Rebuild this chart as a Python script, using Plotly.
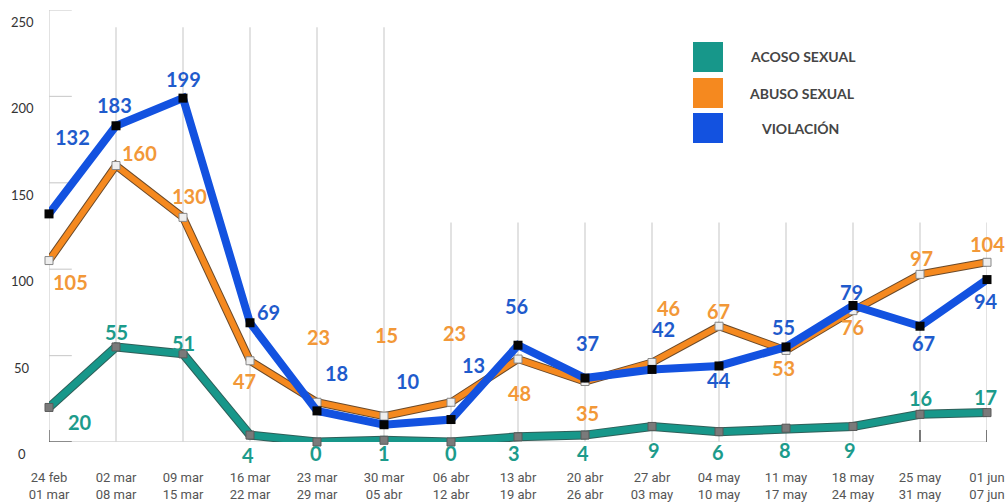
import plotly.graph_objects as go

weeks = ["24 feb<br>01 mar", "02 mar<br>08 mar", "09 mar<br>15 mar", "16 mar<br>22 mar",
         "23 mar<br>29 mar", "30 mar<br>05 abr", "06 abr<br>12 abr", "13 abr<br>19 abr",
         "20 abr<br>26 abr", "27 abr<br>03 may", "04 may<br>10 may", "11 may<br>17 may",
         "18 may<br>24 may", "25 may<br>31 may", "01 jun<br>07 jun"]
acoso = [20, 55, 51, 4, 0, 1, 0, 3, 4, 9, 6, 8, 9, 16, 17]
abuso = [105, 160, 130, 47, 23, 15, 23, 48, 35, 46, 67, 53, 76, 97, 104]
violacion = [132, 183, 199, 69, 18, 10, 13, 56, 37, 42, 44, 55, 79, 67, 94]
y_ticks = [0, 50, 100, 150, 200, 250]
legend_names = ["ACOSO SEXUAL", "ABUSO SEXUAL", "VIOLACIÓN"]

TEAL, ORANGE, BLUE = "#17978a", "#f5891f", "#1352e0"
TEAL_T, ORANGE_T, BLUE_T = "#1c9b8b", "#f29838", "#1f5bcc"

# label offsets (dx px, dy px upward)
off_v = [(23, 77), (-2, 21), (0, 19), (18, 11), (19, 38), (24, 44), (22, 55), (-2, 39),
         (2, 35), (11, 40), (0, -14), (-3, 20), (-2, 13), (3, -17), (-1, -21)]
off_a = [(21, -21), (23, 13), (6, 21), (-6, -20), (1, 65), (2, 81), (3, 69), (1, -34),
         (2, -31), (16, 55), (-1, 15), (-3, -18), (-1, -16), (1, 16), (0, 18)]
off_t = [(31, -15), (0, 15), (0, 11), (-2, -20), (-1, -11), (0, -13), (0, -11), (-4, -16),
         (-2, -18), (2, -24), (-1, -20), (-1, -22), (-3, -24), (0, 16), (-2, 16)]

W, H = 1005, 502
L, R, T, B = 49, 18, 10, 60
PW, PH = W - L - R, H - T - B


def px(x):
    return (x - L) / PW


def py(y):
    return (H - B - y) / PH


xs = list(range(len(weeks)))
fig = go.Figure()

# teal with dark outline
fig.add_trace(go.Scatter(x=xs, y=acoso, mode="lines", line=dict(color="#2f5f59", width=9),
                         hoverinfo="skip", showlegend=False, cliponaxis=False))
fig.add_trace(go.Scatter(x=xs, y=acoso, mode="lines+markers", name=legend_names[0],
                         line=dict(color=TEAL, width=7),
                         marker=dict(symbol="square", size=8, color="#7a7a7a",
                                     line=dict(color="#5a5a5a", width=1)),
                         showlegend=False, cliponaxis=False))
# orange with dark outline
fig.add_trace(go.Scatter(x=xs, y=abuso, mode="lines", line=dict(color="#6b4a2a", width=8),
                         hoverinfo="skip", showlegend=False, cliponaxis=False))
fig.add_trace(go.Scatter(x=xs, y=abuso, mode="lines+markers", name=legend_names[1],
                         line=dict(color=ORANGE, width=6),
                         marker=dict(symbol="square", size=8, color="#eeeeee",
                                     line=dict(color="#888888", width=1)),
                         showlegend=False, cliponaxis=False))
# blue
fig.add_trace(go.Scatter(x=xs, y=violacion, mode="lines+markers", name=legend_names[2],
                         line=dict(color=BLUE, width=8),
                         marker=dict(symbol="square", size=9, color="#050505"),
                         showlegend=False, cliponaxis=False))

shapes = []
# vertical gridlines (varying heights)
for i in xs:
    top = 250 if i == 0 else (240 if i <= 5 else 127)
    shapes.append(dict(type="line", xref="x", yref="y", x0=i, x1=i, y0=-7, y1=top,
                       line=dict(color="#d9d9d9", width=1.5), layer="below"))
# short horizontal gridlines at ticks
for v in y_ticks[1:]:
    shapes.append(dict(type="line", xref="x", yref="y", x0=0, x1=0.34, y0=v, y1=v,
                       line=dict(color="#cfcfcf", width=1.2), layer="below"))
# baseline
shapes.append(dict(type="line", xref="x", yref="y", x0=0, x1=14.05, y0=0, y1=0,
                   line=dict(color="#d5d5d5", width=1.5), layer="below"))
shapes.append(dict(type="line", xref="x", yref="y", x0=0, x1=0.34, y0=0, y1=0,
                   line=dict(color="#555555", width=1.2)))
shapes.append(dict(type="line", xref="x", yref="y", x0=0, x1=0, y0=0, y1=7,
                   line=dict(color="#555555", width=1.2)))
for i in (13, 14):
    shapes.append(dict(type="line", xref="x", yref="y", x0=i, x1=i, y0=0, y1=7,
                       line=dict(color="#333333", width=1.2)))

# legend boxes
legend_cols = [TEAL, ORANGE, BLUE]
legend_y = [57, 93, 128]
legend_tx = [803, 802, 800]
for c, yc in zip(legend_cols, legend_y):
    shapes.append(dict(type="rect", xref="paper", yref="paper",
                       x0=px(693), x1=px(723), y0=py(yc + 15), y1=py(yc - 15),
                       fillcolor=c, line=dict(width=0)))

ann = []
for name, yc, tx in zip(legend_names, legend_y, legend_tx):
    ann.append(dict(xref="paper", yref="paper", x=px(tx), y=py(yc), text=name,
                    showarrow=False, xanchor="center", yanchor="middle",
                    font=dict(family="Lato", size=14, color="#454545", weight="bold")))

for series, offs, col in ((acoso, off_t, TEAL_T), (abuso, off_a, ORANGE_T),
                          (violacion, off_v, BLUE_T)):
    for i, (v, (dx, dy)) in enumerate(zip(series, offs)):
        ann.append(dict(x=i, y=v, xref="x", yref="y", text=str(v), showarrow=False,
                        xshift=dx, yshift=dy, xanchor="center", yanchor="middle",
                        font=dict(family="Lato", size=20, color=col, weight="bold")))

for v in y_ticks:
    ann.append(dict(xref="paper", yref="y", x=px(22), y=v, text=str(v), showarrow=False,
                    yshift=-12, xanchor="center", yanchor="middle",
                    font=dict(family="Lato", size=13, color="#333333")))

fig.update_layout(
    width=W, height=H,
    margin=dict(l=L, r=R, t=T, b=B, autoexpand=False),
    paper_bgcolor="white", plot_bgcolor="white",
    xaxis=dict(range=[0, 14], tickmode="array", tickvals=xs, ticktext=weeks,
               showgrid=False, zeroline=False, showline=False, ticks="", automargin=False,
               tickfont=dict(family="Roboto", size=13, color="#555555"), ticklabelstandoff=26),
    yaxis=dict(range=[0, 250], showgrid=False, zeroline=False, showline=False,
               showticklabels=False, ticks="", automargin=False),
    shapes=shapes, annotations=ann,
)

fig.write_html("out.html", config={"displayModeBar": False},
               post_script="document.body.style.margin='0';document.body.style.padding='0';")
